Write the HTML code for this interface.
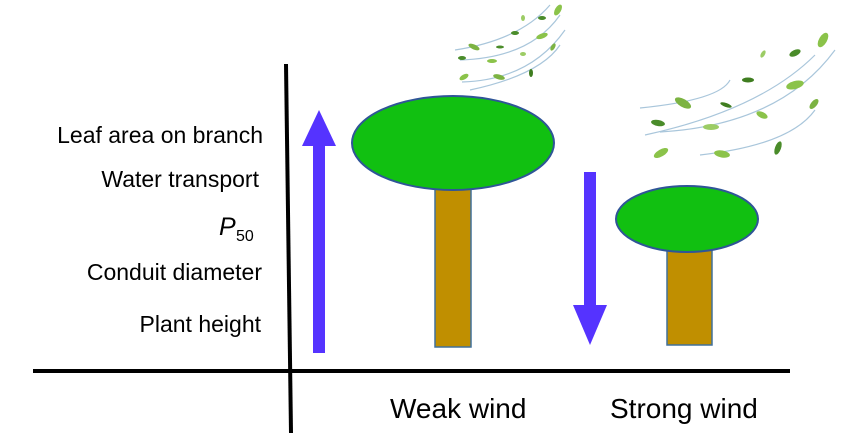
<!DOCTYPE html>
<html><head><style>html,body{margin:0;padding:0;background:#fff}svg{display:block}</style></head>
<body>
<svg width="865" height="439" viewBox="0 0 865 439" xmlns="http://www.w3.org/2000/svg" font-family="Liberation Sans, sans-serif">
<rect width="865" height="439" fill="#fff"/>
<line x1="286" y1="64" x2="291" y2="433" stroke="#000" stroke-width="4"/>
<line x1="33" y1="371" x2="790" y2="371" stroke="#000" stroke-width="4"/>
<g font-size="23" fill="#000" text-anchor="end" textLength="">
<text x="263" y="143">Leaf area on branch</text>
<text x="259" y="187">Water transport</text>
<text x="262" y="280">Conduit diameter</text>
<text x="261" y="332">Plant height</text>
</g>
<text x="219" y="235" font-size="25" font-style="italic">P</text>
<text x="236" y="241" font-size="16">50</text>
<text x="390" y="418" font-size="28">Weak wind</text>
<text x="610" y="418" font-size="28">Strong wind</text>
<rect x="313" y="144" width="12" height="209" fill="#5533ff"/>
<polygon points="319,110 302,146 336,146" fill="#5533ff"/>
<rect x="584" y="172" width="12" height="135" fill="#5533ff"/>
<polygon points="590,345 573,305 607,305" fill="#5533ff"/>
<rect x="435" y="186" width="36" height="161" fill="#c08f00" stroke="#41719c" stroke-width="1.5"/>
<ellipse cx="453" cy="143" rx="101" ry="47" fill="#11c011" stroke="#2f5597" stroke-width="2"/>
<rect x="667" y="248" width="45" height="97" fill="#c08f00" stroke="#41719c" stroke-width="1.5"/>
<ellipse cx="687" cy="219" rx="71" ry="33" fill="#11c011" stroke="#2f5597" stroke-width="2"/>
<g fill="none" stroke="#a9c6db" stroke-width="1.2">
<path d="M455,50 Q520,40 550,5"/>
<path d="M460,60 Q530,58 560,15"/>
<path d="M462,82 Q530,80 565,30"/>
<path d="M470,90 Q540,75 560,45"/>
<path d="M640,108 Q720,100 730,80"/>
<path d="M645,135 Q760,110 815,55"/>
<path d="M660,132 Q780,125 835,50"/>
<path d="M700,155 Q790,145 815,110"/>
</g>
<g>
<ellipse cx="558" cy="10" rx="3" ry="6" fill="#8bc34a" transform="rotate(30 558 10)"/>
<ellipse cx="542" cy="18" rx="4" ry="2" fill="#4a8c2a"/>
<ellipse cx="523" cy="18" rx="2" ry="3" fill="#9ccc65"/>
<ellipse cx="515" cy="33" rx="4" ry="2" fill="#4a8c2a"/>
<ellipse cx="542" cy="36" rx="6" ry="2.5" fill="#8bc34a" transform="rotate(-20 542 36)"/>
<ellipse cx="474" cy="47" rx="6" ry="2.5" fill="#7cb342" transform="rotate(25 474 47)"/>
<ellipse cx="500" cy="47" rx="4" ry="1.5" fill="#4a8c2a"/>
<ellipse cx="523" cy="54" rx="3" ry="2" fill="#9ccc65"/>
<ellipse cx="553" cy="47" rx="2" ry="4" fill="#7cb342" transform="rotate(30 553 47)"/>
<ellipse cx="462" cy="58" rx="4" ry="2" fill="#4a8c2a"/>
<ellipse cx="492" cy="61" rx="5" ry="2" fill="#8bc34a"/>
<ellipse cx="531" cy="73" rx="2" ry="4" fill="#3f7d20"/>
<ellipse cx="464" cy="77" rx="5" ry="2.5" fill="#8bc34a" transform="rotate(-30 464 77)"/>
<ellipse cx="499" cy="77" rx="6" ry="2.5" fill="#7cb342" transform="rotate(15 499 77)"/>
<ellipse cx="823" cy="40" rx="4" ry="8" fill="#8bc34a" transform="rotate(30 823 40)"/>
<ellipse cx="795" cy="53" rx="6" ry="3" fill="#4a8c2a" transform="rotate(-25 795 53)"/>
<ellipse cx="763" cy="54" rx="2" ry="4" fill="#9ccc65" transform="rotate(30 763 54)"/>
<ellipse cx="748" cy="80" rx="6" ry="2.5" fill="#3f7d20"/>
<ellipse cx="795" cy="85" rx="9" ry="4" fill="#8bc34a" transform="rotate(-15 795 85)"/>
<ellipse cx="814" cy="104" rx="3" ry="6" fill="#7cb342" transform="rotate(40 814 104)"/>
<ellipse cx="683" cy="103" rx="9" ry="4" fill="#7cb342" transform="rotate(30 683 103)"/>
<ellipse cx="726" cy="105" rx="6" ry="2" fill="#3f7d20" transform="rotate(20 726 105)"/>
<ellipse cx="762" cy="115" rx="6" ry="3" fill="#8bc34a" transform="rotate(25 762 115)"/>
<ellipse cx="658" cy="123" rx="7" ry="3" fill="#4a8c2a" transform="rotate(10 658 123)"/>
<ellipse cx="711" cy="127" rx="8" ry="3" fill="#9ccc65"/>
<ellipse cx="661" cy="153" rx="8" ry="3.5" fill="#8bc34a" transform="rotate(-30 661 153)"/>
<ellipse cx="722" cy="154" rx="8" ry="3.5" fill="#8bc34a" transform="rotate(10 722 154)"/>
<ellipse cx="778" cy="148" rx="3" ry="7" fill="#4a8c2a" transform="rotate(20 778 148)"/>
</g>
</svg>
</body></html>
